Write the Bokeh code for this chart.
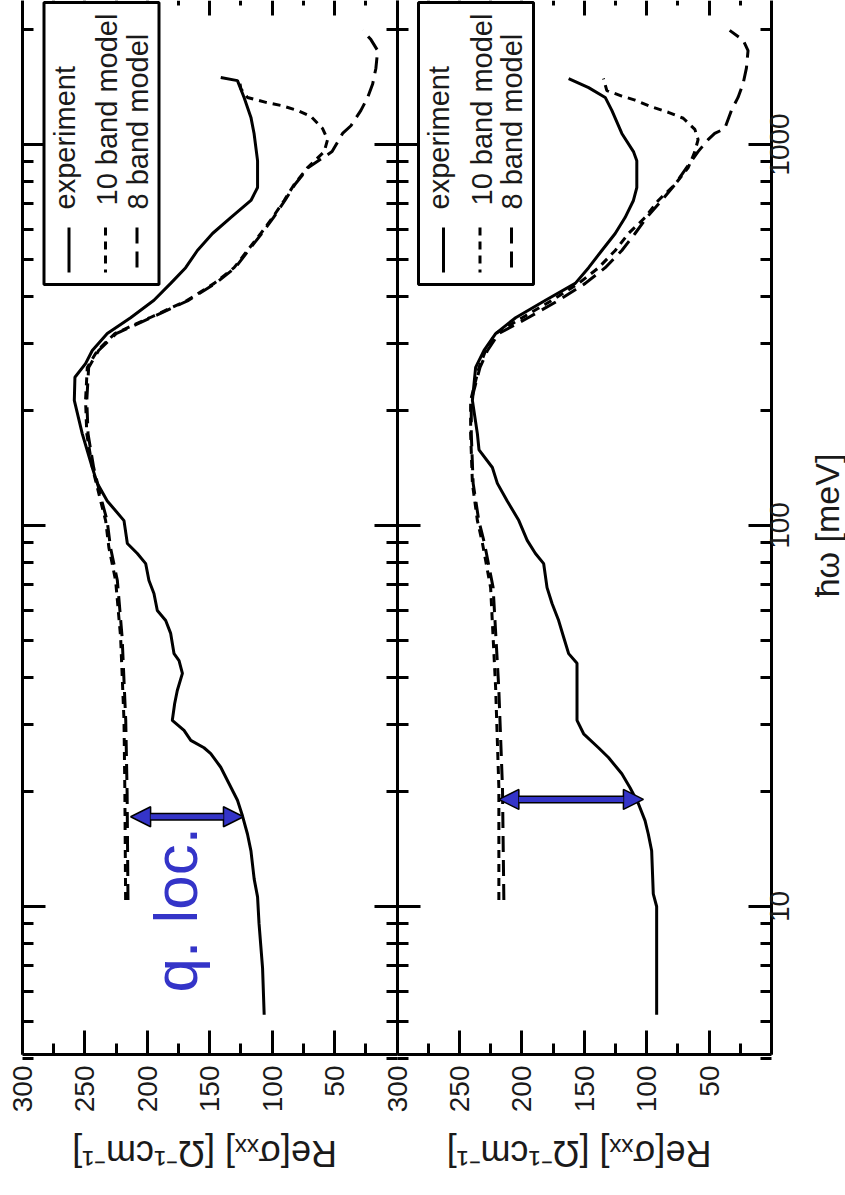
import math
from bokeh.plotting import figure
from bokeh.models import (Range1d, FixedTicker, LogAxis, LinearAxis, Label, BoxAnnotation,
                          Arrow, NormalHead, CustomJSTickFormatter)
from bokeh.embed import file_html
from bokeh.resources import INLINE

# ---------------- data ----------------
# upper panel (drawn on the left after rotation)
top_exp_omega = [5.2, 6.9, 9.0, 10.6, 11.8, 14.0, 15.5, 17.3, 19.0, 21.0, 23.2, 25.2, 26.1, 27.3, 29.0,
                 30.8, 34.1, 36.9, 40.9, 44.2, 46.1, 52.1, 56.3, 59.8, 66.3, 71.7, 79.4, 84.4, 89.7, 103,
                 116, 129, 142, 174, 213, 245, 266, 288, 319, 351, 390, 432, 475, 527, 584,
                 643, 713, 771, 907, 1069, 1178, 1329, 1471, 1500]
top_exp_sigma = [106.4, 107.7, 110.5, 111.7, 114.4, 117.0, 119.8, 123.8, 127.8, 134.5, 141.2, 149.2, 154.6, 165.2, 170.6,
                 180.0, 178.1, 176.0, 171.9, 174.6, 178.6, 181.3, 185.3, 192.0, 194.7, 198.7, 201.3, 208.0, 216.0, 218.7,
                 232.1, 240.1, 244.1, 252.1, 258.5, 258.0, 249.5, 244.1, 232.1, 213.4, 194.7, 181.3, 169.3, 159.9, 147.8,
                 133.2, 117.0, 111.7, 111.7, 114.5, 117.0, 122.5, 127.8, 141.2]

top_b10_omega = [10.4, 20.0, 30.8, 50.9, 71.7, 87.5, 103, 116, 142, 174, 213, 260, 288, 319, 351, 390, 432,
                 475, 527, 584, 643, 713, 785, 870, 958, 1030, 1101, 1185, 1229, 1266, 1290, 1329, 1402, 1490]
top_b10_sigma = [217.4, 218.0, 218.7, 221.4, 225.4, 230.8, 233.4, 237.4, 244.0, 248.5, 249.5, 248.1, 240.0, 226.0,
                 198.0, 168.0, 146.5, 130.5, 119.8, 109.1, 99.7, 90.4, 82.4, 71.6, 58.3, 55.6, 59.6, 69.0, 79.7,
                 93.0, 105.0, 119.8, 125.1, 126.5]

top_b8_omega = [10.4, 20.0, 30.8, 50.9, 71.7, 87.5, 103, 116, 142, 174, 213, 260, 288, 319, 351, 390, 432,
                475, 527, 584, 643, 713, 785, 870, 958, 1069, 1120, 1229, 1329, 1442, 1586, 1764, 1885, 1993]
top_b8_sigma = [215.5, 216.2, 217.3, 220.2, 224.0, 229.5, 232.2, 236.5, 243.0, 247.5, 248.5, 247.0, 239.0, 225.0,
                197.0, 167.0, 145.5, 129.5, 119.0, 108.3, 99.0, 89.8, 81.8, 71.0, 52.0, 43.6, 36.9, 28.9, 23.5,
                19.5, 16.9, 15.5, 20.9, 27.5]

# lower panel (drawn on the right after rotation)
bot_exp_omega = [5.2, 10.0, 10.8, 14.0, 15.5, 16.8, 18.6, 20.5, 22.3, 24.6, 26.1, 28.4, 30.8, 43.5, 46.1,
                 50.9, 56.3, 62.4, 68.7, 79.4, 84.4, 91.4, 103, 116, 129, 142, 158, 174, 213, 260,
                 288, 319, 351, 390, 432, 475, 527, 584, 643, 713, 771, 907, 958, 1069, 1229,
                 1329, 1410, 1490]
bot_exp_sigma = [92.0, 92.0, 94.7, 96.0, 98.7, 101.3, 106.6, 113.3, 119.9, 130.6, 138.6, 150.5, 155.8, 155.8, 162.5,
                 166.5, 170.5, 175.8, 179.8, 182.5, 189.1, 195.7, 202.4, 211.7, 219.6, 223.6, 234.3, 235.6, 239.6, 237.0,
                 230.3, 221.0, 205.0, 181.0, 157.2, 146.5, 135.9, 125.2, 117.3, 110.6, 107.9, 107.9, 110.6, 119.9, 127.9,
                 133.2, 146.5, 162.5]

bot_b10_omega = [10.4, 20.5, 37.6, 68.7, 90, 103, 129, 174, 213, 260, 288, 319, 351, 390, 432, 475,
                 527, 584, 643, 713, 785, 870, 958, 1030, 1096, 1172, 1215, 1255, 1308, 1340, 1385, 1490]
bot_b10_sigma = [218.4, 218.4, 221.0, 225.0, 231.6, 235.6, 239.6, 241.0, 241.0, 234.3, 229.0, 221.0, 199.7, 175.8,
                 154.5, 138.5, 125.2, 114.6, 101.3, 90.7, 77.4, 66.7, 61.4, 58.8, 61.4, 70.7, 82.7, 96.0, 109.3,
                 119.9, 131.9, 134.6]

bot_b8_omega = [10.4, 20.5, 37.6, 68.7, 90, 103, 129, 174, 213, 260, 288, 319, 351, 390, 432, 475,
                527, 584, 643, 713, 785, 870, 958, 1030, 1069, 1101, 1229, 1329, 1442, 1586, 1764, 1880, 1993]
bot_b8_sigma = [214.4, 215.5, 218.5, 223.0, 230.0, 234.5, 239.0, 240.5, 240.5, 233.5, 227.5, 218.5, 195.0, 170.5,
                149.2, 133.2, 119.9, 109.3, 100.0, 88.0, 77.4, 68.0, 58.8, 50.8, 45.5, 37.5, 32.1, 26.8, 22.8,
                20.1, 18.8, 22.8, 33.5]

# quasi-localisation arrows: (omega, sigma_from, sigma_to)
top_arrow = (17.2, 213.4, 123.0)
bot_arrow = (19.1, 218.4, 102.6)

# ticks and texts
sigma_ticks = [0, 50, 100, 150, 200, 250, 300]
sigma_minor = [25, 75, 125, 175, 225, 275]
sigma_hidden = {0: ""}
omega_ticks = [10, 100, 1000]
omega_labels = ["10", "100", "1000"]
omega_minor = [4, 5, 6, 7, 8, 9, 20, 30, 40, 50, 60, 70, 80, 90,
               200, 300, 400, 500, 600, 700, 800, 900, 2000, 3000]
legend_names = ["experiment", "10 band model", "8 band model"]
legend_dashes = ["solid", "8 6", "16 8"]
sigma_title = "Re[σₓₓ] [Ω⁻¹cm⁻¹]"
omega_title = "ħω [meV]"
note_text = "q. loc."

# ---------------- layout constants (pixels) ----------------
FONT = "Liberation Sans"
BLUE = "#3434c8"
TEXT = "#1a1a1a"
WIDTH, HEIGHT = 845, 1195
PLOT_X0 = 22            # left edge of the upper panel
PANEL_W = 374.5         # width of each panel
PLOT_H = 1054           # height of the panels
DEC_PX = 381.0          # pixels per decade of omega
LOG_TOP = 1 + 906 / DEC_PX
TICK_FS = 28


def wy(py):
    """omega value at a pixel offset from the top"""
    return 10 ** (LOG_TOP - py / DEC_PX)


def sx(px):
    """sigma value at a pixel offset from a panel's left edge"""
    return 300 - 300.0 * px / PANEL_W


OMEGA_LO, OMEGA_HI = wy(PLOT_H), wy(0)

p = figure(width=WIDTH, height=HEIGHT,
           x_range=Range1d(sx(-PLOT_X0), sx(WIDTH - PLOT_X0)),
           y_range=Range1d(wy(HEIGHT), wy(0)),
           y_axis_type="log", x_axis_location=None, y_axis_location=None,
           output_backend="svg", toolbar_location=None,
           min_border_left=0, min_border_right=0, min_border_top=0, min_border_bottom=0)
# the lower panel has its own sigma scale, shifted one panel width to the right
p.extra_x_ranges = {"lower": Range1d(sx(-PLOT_X0) + 300, sx(WIDTH - PLOT_X0) + 300)}
p.outline_line_color = None
p.grid.visible = False
p.background_fill_color = "white"
p.border_fill_color = "white"


def style(ax, major, minor, line=True):
    ax.major_tick_in = major
    ax.major_tick_out = 0
    ax.minor_tick_in = minor
    ax.minor_tick_out = 0
    ax.major_tick_line_width = 3
    ax.minor_tick_line_width = 3
    ax.axis_line_width = 3
    ax.major_tick_line_color = "black"
    ax.minor_tick_line_color = "black"
    ax.axis_line_color = "black" if line else None


def hide_labels(ax):
    ax.formatter = CustomJSTickFormatter(code="return '';")
    ax.major_label_text_font_size = "0px"
    ax.major_label_standoff = 0


# sigma axes, one per panel, at bottom (labelled) and top (ticks only)
for rname in ["default", "lower"]:
    bot = LinearAxis(x_range_name=rname, fixed_location=OMEGA_LO, bounds=(0, 300),
                     ticker=FixedTicker(ticks=sigma_ticks, minor_ticks=sigma_minor))
    bot.major_label_overrides = sigma_hidden
    bot.major_label_orientation = math.pi / 2
    bot.major_label_text_font = FONT
    bot.major_label_text_font_size = f"{TICK_FS}px"
    bot.major_label_text_color = TEXT
    bot.major_label_standoff = 11
    style(bot, 24, 11)
    p.add_layout(bot, "below")

    top = LinearAxis(x_range_name=rname, fixed_location=OMEGA_HI, bounds=(0, 300),
                     ticker=FixedTicker(ticks=sigma_ticks, minor_ticks=sigma_minor))
    hide_labels(top)
    style(top, 15, 5, line=False)
    p.add_layout(top, "above")

    p.add_layout(Label(x_range_name=rname, x=sx(182), y=wy(1153), text=sigma_title, angle=math.pi,
                       text_font=FONT, text_font_size="36px", text_color=TEXT,
                       text_align="center", text_baseline="middle"))

# omega tick marks: frame left, both sides of the panel divider, frame right
for place, loc, line in [("left", 300, True), ("left", 0, True), ("right", 0, False), ("right", -300, True)]:
    ax = LogAxis(fixed_location=loc, bounds=(OMEGA_LO, OMEGA_HI),
                 ticker=FixedTicker(ticks=omega_ticks, minor_ticks=omega_minor))
    hide_labels(ax)
    style(ax, 23, 11, line=line)
    p.add_layout(ax, place)

# omega tick labels on the right; rotated labels start at their tick, so each tick
# position is moved down by half the label length to centre the label on its tick
label_pos = [10 ** (math.log10(v) - 0.5 * 0.556 * TICK_FS * len(t) / DEC_PX)
             for v, t in zip(omega_ticks, omega_labels)]
lab_ax = LogAxis(fixed_location=-300, bounds=(OMEGA_LO, OMEGA_HI),
                 ticker=FixedTicker(ticks=label_pos, minor_ticks=[]),
                 formatter=CustomJSTickFormatter(args={"labels": omega_labels},
                                                 code="return labels[index];"))
lab_ax.major_tick_in = 0
lab_ax.major_tick_out = 0
lab_ax.minor_tick_in = 0
lab_ax.minor_tick_out = 0
lab_ax.axis_line_color = None
lab_ax.major_tick_line_color = None
lab_ax.minor_tick_line_color = None
lab_ax.major_label_orientation = math.pi / 2
lab_ax.major_label_text_font = FONT
lab_ax.major_label_text_font_size = f"{TICK_FS}px"
lab_ax.major_label_text_color = TEXT
lab_ax.major_label_standoff = 8
p.add_layout(lab_ax, "right")

p.add_layout(Label(x=sx(826 - PLOT_X0), y=wy(525), text=omega_title, angle=math.pi / 2,
                   text_font=FONT, text_font_size="34px", text_color=TEXT,
                   text_align="center", text_baseline="middle"))


def draw_panel(rname, exp, b10, b8, arrow, note):
    p.line(exp[1], exp[0], x_range_name=rname, line_color="black", line_width=3)
    p.line(b10[1], b10[0], x_range_name=rname, line_color="black", line_width=3,
           line_dash=legend_dashes[1])
    p.line(b8[1], b8[0], x_range_name=rname, line_color="black", line_width=3,
           line_dash=legend_dashes[2])

    # legend (drawn by hand because its text is rotated)
    p.add_layout(BoxAnnotation(x_range_name=rname, left=sx(21.5), right=sx(136.5),
                               top=wy(2), bottom=wy(284),
                               fill_color="white", fill_alpha=1.0, line_color="black",
                               line_width=3, line_alpha=1.0))
    center_px = [42, 84.5, 115]
    start_py = [209, 205, 209]
    sample_px = [46.5, 83, 114.5]
    for name, dash, cx, sy_, smp in zip(legend_names, legend_dashes, center_px, start_py, sample_px):
        p.add_layout(Label(x_range_name=rname, x=sx(cx), y=wy(sy_), text=name, angle=math.pi / 2,
                           text_font=FONT, text_font_size="29px", text_color=TEXT,
                           text_align="left", text_baseline="middle"))
        p.line([sx(smp), sx(smp)], [wy(227), wy(272)], x_range_name=rname, line_color="black",
               line_width=3, line_dash=dash, level="overlay")

    # blue double arrow
    w, s0, s1 = arrow
    head = 20
    inset = head * 300.0 / PANEL_W
    p.segment(x0=[s0 - inset], y0=[w], x1=[s1 + inset], y1=[w], x_range_name=rname,
              line_color="black", line_width=8)
    p.add_layout(Arrow(x_range_name=rname, x_start=s0, y_start=w, x_end=s1, y_end=w,
                       line_color=BLUE, line_width=5,
                       start=NormalHead(size=head, fill_color=BLUE, line_color="black", line_width=1.5),
                       end=NormalHead(size=head, fill_color=BLUE, line_color="black", line_width=1.5)))

    if note:
        p.add_layout(Label(x_range_name=rname, x=sx(153), y=wy(992), text=note_text, angle=math.pi / 2,
                           text_font=FONT, text_font_size="62px", text_color=BLUE,
                           text_align="left", text_baseline="middle"))


draw_panel("default", (top_exp_omega, top_exp_sigma), (top_b10_omega, top_b10_sigma),
           (top_b8_omega, top_b8_sigma), top_arrow, True)
draw_panel("lower", (bot_exp_omega, bot_exp_sigma), (bot_b10_omega, bot_b10_sigma),
           (bot_b8_omega, bot_b8_sigma), bot_arrow, False)

open("out.html", "w").write(file_html(p, INLINE))
